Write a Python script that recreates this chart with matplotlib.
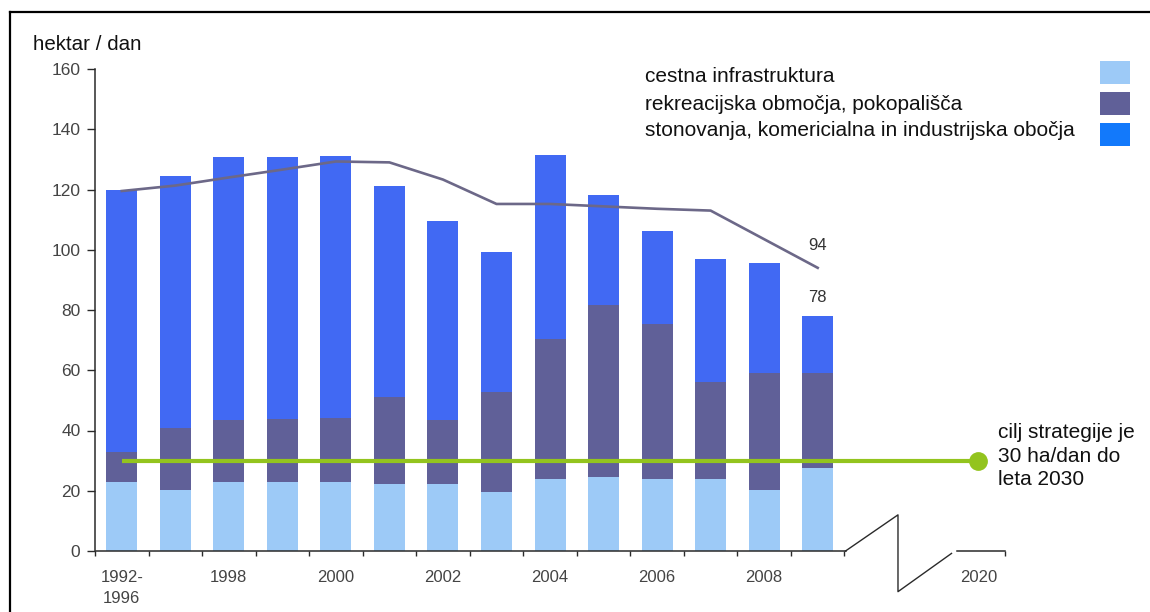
import matplotlib
matplotlib.use("Agg")
import matplotlib.pyplot as plt
from matplotlib.lines import Line2D
from matplotlib.patches import Rectangle
import numpy as np

plt.rcParams['font.family'] = ['Liberation Sans', 'DejaVu Sans']

# Land take per day (hectares), by purpose
periods = ["1992-\n1996", "1997", "1998", "1999", "2000", "2001", "2002",
           "2003", "2004", "2005", "2006", "2007", "2008", "2009"]
road = [23.0, 20.3, 23.0, 23.0, 23.0, 22.3, 22.3, 19.5, 23.9, 24.7, 23.9, 23.9, 20.3, 27.5]
recreation = [9.7, 20.5, 20.5, 20.9, 21.1, 28.8, 21.2, 33.4, 46.4, 57.0, 51.5, 32.3, 38.7, 31.5]
housing = [87.1, 83.8, 87.3, 86.9, 87.0, 70.1, 66.1, 46.2, 61.0, 36.6, 30.7, 40.7, 36.6, 19.0]
trend = [119.5, 121.3, 124.0, 126.6, 129.3, 129.0, 123.3, 115.2, 115.2, 114.4, 113.6, 113.0, 103.5, 94.0]
target = 30
target_year_label = "2020"
label_years = ["1992-\n1996", "1998", "2000", "2002", "2004", "2006", "2008"]

legend_labels = ["cestna infrastruktura",
                 "rekreacijska območja, pokopališča",
                 "stonovanja, komericialna in industrijska obočja"]
target_text = "cilj strategije je\n30 ha/dan do\nleta 2030"

c_road = "#9dcaf7"
c_rec = "#606098"
c_house = "#4169f3"
c_house_leg = "#1279fb"
c_trend = "#6c6888"
c_green = "#93c41e"
c_axis = "#2a2a2a"
c_tick = "#444444"

W, H = 1150, 612
fig = plt.figure(figsize=(W / 100, H / 100), dpi=100)

px_per_unit = 53.56
xmin, xmax = -0.49, 19.0
ax_left = 95 / W
ax_width = (xmax - xmin) * px_per_unit / W
ax_bottom = 1 - 551 / H
ax_top = 1 - 69 / H
ax = fig.add_axes([ax_left, ax_bottom, ax_width, ax_top - ax_bottom])
ax.set_xlim(xmin, xmax)
ax.set_ylim(0, 160)

x = np.arange(len(periods))
road_a = np.array(road)
rec_a = np.array(recreation)
house_a = np.array(housing)
total = road_a + rec_a + house_a
bw = 0.58

ax.bar(x, road_a, width=bw, color=c_road, zorder=2)
ax.bar(x, rec_a, width=bw, bottom=road_a, color=c_rec, zorder=2)
ax.bar(x, house_a, width=bw, bottom=road_a + rec_a, color=c_house, zorder=2)

ax.plot(x, trend, color=c_trend, lw=1.9, zorder=3, solid_joinstyle='round')

# Strategy target line out to the 2020 position
target_x = len(periods) + 2
ax.plot([0, target_x], [target, target], color=c_green, lw=3.0, zorder=4,
        solid_capstyle='butt')
ax.plot([target_x], [target], marker='o', ms=12.5, color=c_green, zorder=5,
        clip_on=False)
ax.text(target_x + 0.37, target + 1.5, target_text, fontsize=15, color="#111111",
        ha='left', va='center', linespacing=1.32, zorder=5)

# Value labels for the last period
ax.annotate(f"{trend[-1]:.0f}", (x[-1], trend[-1]), xytext=(0, 16),
            textcoords='offset points', ha='center', va='center',
            fontsize=12, color="#333333")
ax.annotate(f"{total[-1]:.0f}", (x[-1], total[-1]), xytext=(0, 13),
            textcoords='offset points', ha='center', va='center',
            fontsize=12, color="#333333")

# Spines
for s in ['top', 'right', 'bottom']:
    ax.spines[s].set_visible(False)
ax.spines['left'].set_color(c_axis)
ax.spines['left'].set_linewidth(1.1)
ax.spines['left'].set_bounds(0, 160)

# Y axis
ax.set_yticks(np.arange(0, 161, 20))
ax.tick_params(axis='y', direction='out', length=5.5, width=1.0, color=c_axis,
               labelsize=12.5, labelcolor=c_tick, pad=5)

# X axis: boundary ticks plus labels under selected bars
axis_end = len(periods) - 0.48
ax.plot([xmin, axis_end], [0, 0], color=c_axis, lw=1.1, clip_on=False, zorder=6)
brk_x = [axis_end, 14.5, 14.5, 15.5]
brk_y = [0, 12, -13.5, -0.8]
ax.plot(brk_x, brk_y, color=c_axis, lw=1.0, clip_on=False, zorder=6)
ax.plot([15.6, target_x + 0.5], [0, 0], color=c_axis, lw=1.1, clip_on=False, zorder=6)

major = list(np.arange(-0.5, len(periods), 1.0)) + [target_x + 0.5]
ax.set_xticks(major)
ax.set_xticklabels([])
ax.tick_params(axis='x', which='major', direction='out', length=3.5, width=1.0,
               color=c_axis)
minor_pos = [periods.index(p) for p in label_years] + [target_x]
ax.set_xticks(minor_pos, minor=True)
ax.set_xticklabels(label_years + [target_year_label], minor=True)
ax.tick_params(axis='x', which='minor', length=0, labelsize=12,
               labelcolor=c_tick, pad=14)
for lab in ax.get_xticklabels(minor=True):
    lab.set_linespacing(1.45)

# Y unit title
fig.text(33 / W, 1 - 45 / H, "hektar / dan", fontsize=14.8, color="#111111",
         ha='left', va='center')

# Legend: labels on the left, colour swatches on the right
leg_y = [77, 104, 131]
sw_y = [61, 92, 123]
sw_cols = [c_road, c_rec, c_house_leg]
for lbl, ty, sy, col in zip(legend_labels, leg_y, sw_y, sw_cols):
    fig.text(645 / W, 1 - ty / H, lbl, fontsize=15, color="#111111",
             ha='left', va='center')
    fig.add_artist(Rectangle((1100 / W, 1 - (sy + 23) / H), 30 / W, 23 / H,
                             transform=fig.transFigure, color=col, lw=0))

# Frame around the figure
fig.add_artist(Line2D([10 / W, 1.0], [1 - 12 / H, 1 - 12 / H], color='black',
                      lw=1.6, transform=fig.transFigure))
fig.add_artist(Line2D([10 / W, 10 / W], [1 - 12 / H, 0.0], color='black',
                      lw=1.6, transform=fig.transFigure))

fig.savefig("out.png", dpi=100)
